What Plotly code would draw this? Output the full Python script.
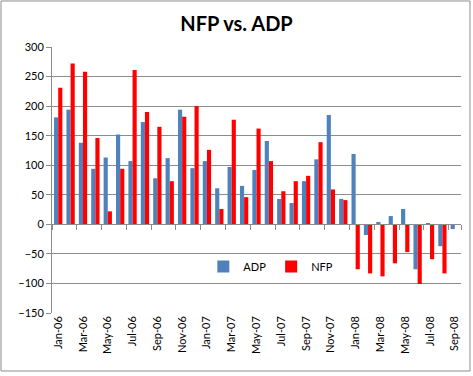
import plotly.graph_objects as go

months = ["Jan-06","Feb-06","Mar-06","Apr-06","May-06","Jun-06","Jul-06","Aug-06","Sep-06","Oct-06","Nov-06","Dec-06",
          "Jan-07","Feb-07","Mar-07","Apr-07","May-07","Jun-07","Jul-07","Aug-07","Sep-07","Oct-07","Nov-07","Dec-07",
          "Jan-08","Feb-08","Mar-08","Apr-08","May-08","Jun-08","Jul-08","Aug-08","Sep-08"]
adp = [181, 194, 138, 94, 113, 152, 107, 173, 78, 112, 194, 95,
       107, 61, 97, 65, 92, 141, 43, 36, 73, 110, 185, 43,
       119, -18, 4, 14, 26, -76, 2, -37, -8]
nfp = [231, 272, 258, 146, 22, 94, 261, 190, 165, 73, 182, 200,
       126, 26, 177, 46, 162, 107, 56, 73, 82, 139, 59, 41,
       -76, -83, -88, -66, -47, -101, -59, -83, None]
tick_labels = months[::2]
y_ticks = [-150, -100, -50, 0, 50, 100, 150, 200, 250, 300]

FONT = "Lato, 'Open Sans', sans-serif"
GRID = "#8c8c8c"

fig = go.Figure()
fig.add_trace(go.Bar(name="ADP", x=months, y=adp, marker=dict(color="#4F81BD", line_width=0)))
fig.add_trace(go.Bar(name="NFP", x=months, y=nfp, marker=dict(color="#FF0000", line_width=0)))
# helper trace for the axis drawn at zero
fig.add_trace(go.Scatter(x=months, y=[None]*len(months), xaxis="x2", showlegend=False, hoverinfo="skip"))

frac0 = (0 - y_ticks[0]) / (y_ticks[-1] - y_ticks[0])

fig.update_layout(
    width=473, height=376,
    margin=dict(l=52, r=12, t=47, b=63),
    paper_bgcolor="white", plot_bgcolor="white",
    barmode="group", bargap=0.33, bargroupgap=0.0,
    title=dict(text="<b>NFP vs. ADP</b>", x=0.5, xanchor="center", y=0.955, yanchor="top",
               font=dict(family=FONT, size=20, color="black")),
    font=dict(family=FONT, size=11, color="black"),
    xaxis=dict(type="category", categoryorder="array", categoryarray=months,
               tickmode="array", tickvals=tick_labels, ticktext=tick_labels,
               tickangle=-90, showgrid=False, showline=False, ticks="",
               tickfont=dict(family=FONT, size=11, color="black"), fixedrange=True),
    xaxis2=dict(type="category", categoryorder="array", categoryarray=months,
                overlaying="x", matches="x", anchor="free", position=frac0,
                side="bottom", showticklabels=False, showgrid=False,
                showline=True, linecolor=GRID, linewidth=1,
                ticks="outside", ticklen=5, tickcolor=GRID, tickson="boundaries",
                tickmode="array", tickvals=tick_labels),
    yaxis=dict(range=[-150, 300], tickvals=y_ticks, showgrid=True, gridcolor=GRID, gridwidth=1,
               zeroline=False, showline=True, linecolor=GRID, ticks="outside", ticklen=5,
               tickcolor=GRID, tickfont=dict(family=FONT, size=11, color="black")),
    legend=dict(orientation="h", x=0.37, y=0.175, xanchor="left", yanchor="middle",
                bgcolor="rgba(0,0,0,0)", font=dict(family=FONT, size=11), itemwidth=30,
                traceorder="normal"),
    showlegend=True,
)
fig.add_shape(type="rect", xref="paper", yref="paper", x0=-0.1247, x1=1.022, y0=-0.218, y1=1.173,
              line=dict(color="#8c8c8c", width=1), layer="below")

fig.write_html("out.html", config={"displayModeBar": False},
               post_script="document.body.style.margin='0';")
